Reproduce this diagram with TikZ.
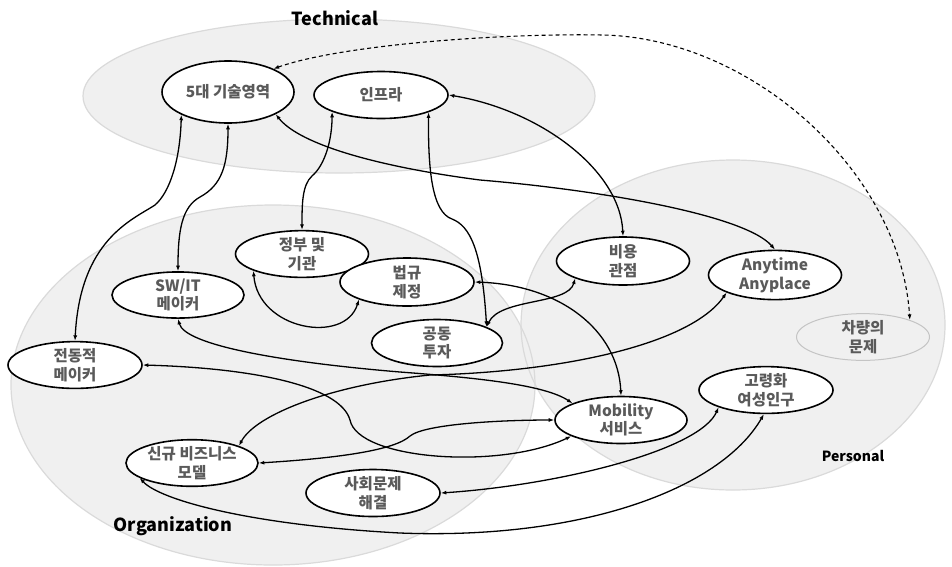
\documentclass[tikz,border=0pt]{standalone}
\usepackage{fontspec}
\setmainfont{Noto Sans CJK KR}
\usetikzlibrary{shapes.geometric,arrows.meta}
\definecolor{bgfill}{HTML}{F0F0F0}
\definecolor{bgline}{HTML}{DADADA}
\definecolor{txtgray}{HTML}{5A5A5A}
\definecolor{vehline}{HTML}{C4C4C4}
\begin{document}
\begin{tikzpicture}[x=1pt,y=-1pt,
  nodebox/.style={ellipse, draw=black, line width=1.6pt, fill=white, inner sep=0pt,
    text=txtgray, font=\fontsize{15.5}{18.5}\selectfont\bfseries, align=center,
    minimum width=133pt, minimum height=46pt},
  vehbox/.style={nodebox, draw=vehline, line width=1pt, fill=bgfill},
  link/.style={line width=1.3pt, {Latex[length=5.5pt,width=4pt]}-{Latex[length=5.5pt,width=4pt]}},
  dashlink/.style={line width=1.1pt, dash pattern=on 4pt off 3pt, {Latex[length=5.5pt,width=4pt]}-{Latex[length=5.5pt,width=4pt]}},
  regionfill/.style={fill=bgfill},
  regionedge/.style={draw=bgline, line width=1.2pt},
  tag/.style={font=\fontsize{18}{20}\selectfont\bfseries, text=black}
]
\useasboundingbox (0,0) rectangle (952,566);
% background regions
\fill[regionfill] (339,96) ellipse (256 and 77);
\fill[regionfill] (273,385) ellipse (262 and 180);
\fill[regionfill] (733,325) ellipse (212 and 165);
\draw[regionedge] (339,96) ellipse (256 and 77);
\draw[regionedge] (273,385) ellipse (262 and 180);
\draw[regionedge] (733,325) ellipse (212 and 165);
% region labels
\node[tag] (ltech) at (335,18) {Technical};
\node[tag] (lorg) at (173,526) {Organization};
\node[tag, font=\fontsize{14}{16}\selectfont\bfseries] (lpers) at (853,456) {Personal};
% nodes
\node[nodebox, minimum width=132pt, minimum height=62pt] (tech5) at (228,92) {5대 기술영역};
\node[nodebox, minimum width=134pt, minimum height=47pt] (infra) at (381,95) {인프라};
\node[nodebox, minimum height=45pt] (gov) at (302,254) {정부 및\\기관};
\node[nodebox, minimum width=134pt, minimum height=48pt] (law) at (407,282) {법규\\제정};
\node[nodebox, minimum width=132pt, minimum height=45pt] (swit) at (178,295) {SW/IT\\메이커};
\node[nodebox, minimum width=131pt, minimum height=47pt] (joint) at (437,343) {공동\\투자};
\node[nodebox, minimum height=48pt] (cost) at (623,261) {비용\\관점};
\node[nodebox, minimum height=47pt] (anytime) at (775,275) {Anytime\\Anyplace};
\node[vehbox, minimum height=45pt] (vehicle) at (863,337) {차량의\\문제};
\node[nodebox, minimum width=134pt] (elec) at (75,365) {전동적\\메이커};
\node[nodebox, minimum width=134pt] (aging) at (766,390) {고령화\\여성인구};
\node[nodebox, minimum width=132pt, minimum height=47pt] (mobility) at (621,420) {Mobility\\서비스};
\node[nodebox, minimum width=132pt, minimum height=43pt] (newbiz) at (192,463) {신규 비즈니스\\모델};
\node[nodebox, minimum width=134pt, minimum height=47pt] (social) at (373,493) {사회문제\\해결};
% connectors
\draw[dashlink] (tech5.27) .. controls (340,45) and (500,33) .. (603,35) .. controls (750,38) and (900,170) .. (vehicle.20);
\draw[link] (tech5.206) .. controls (180,160) and (170,192) .. (155,205) .. controls (132,220) and (80,240) .. (elec.north);
\draw[link] (tech5.south) .. controls (228,165) and (222,185) .. (200,197) .. controls (182,207) and (178,230) .. (swit.north);
\draw[link] (tech5.-25) .. controls (300,145) and (380,167) .. (480,180) .. controls (600,190) and (745,215) .. (anytime.north);
\draw[link] (infra.east) .. controls (540,110) and (620,170) .. (cost.north);
\draw[link] (infra.199) .. controls (332,140) and (325,165) .. (312,176) .. controls (302,185) and (302,205) .. (gov.north);
\draw[link] (infra.-20) .. controls (428,170) and (432,212) .. (452,219) .. controls (470,226) and (482,250) .. (joint.18);
\draw[link] (gov.199) .. controls (258,330) and (345,345) .. (law.200);
\draw[link] (cost.200) .. controls (568,305) and (500,298) .. (joint.18);
\draw[link] (law.east) .. controls (560,285) and (618,330) .. (mobility.north);
\draw[link] (swit.south) .. controls (185,345) and (280,362) .. (400,372) .. controls (480,378) and (545,385) .. (mobility.161);
\draw[link] (newbiz.20) .. controls (255,415) and (330,385) .. (430,375) .. controls (560,372) and (690,345) .. (anytime.200);
\draw[link] (elec.east) .. controls (250,368) and (340,385) .. (350,420) .. controls (358,460) and (500,470) .. (mobility.198);
\draw[link] (newbiz.east) .. controls (340,458) and (395,450) .. (410,436) .. controls (425,424) and (500,420) .. (mobility.west);
\draw[link] (social.east) .. controls (560,485) and (700,450) .. (aging.200);
\draw[link] (newbiz.196) .. controls (160,500) and (250,525) .. (400,533) .. controls (580,540) and (720,490) .. (aging.265);
\end{tikzpicture}
\end{document}
